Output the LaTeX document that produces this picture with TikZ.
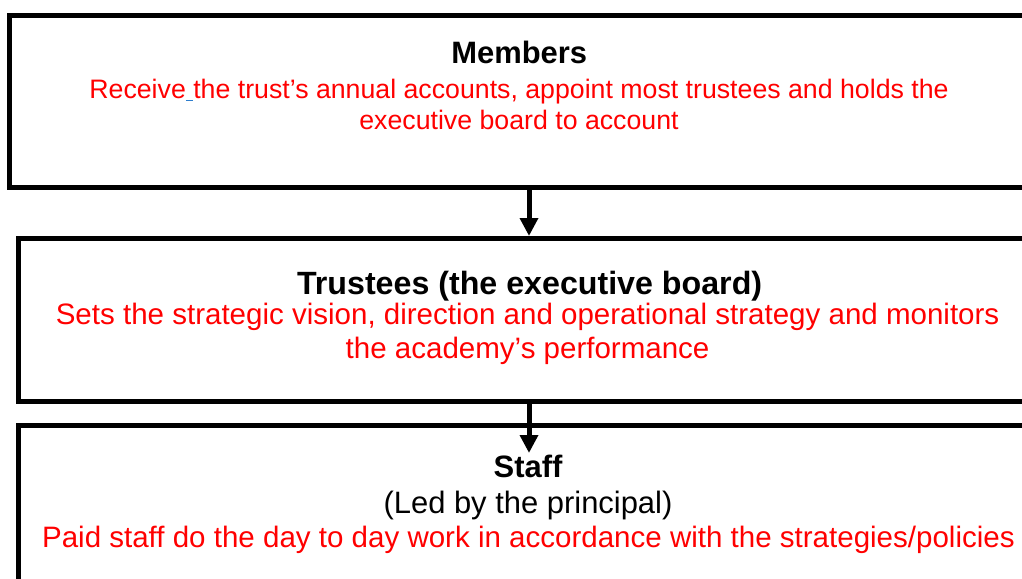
\documentclass[tikz,border=0pt]{standalone}
\usepackage{fontspec}
\setmainfont{Liberation Sans}
\usetikzlibrary{arrows.meta}

\definecolor{linkblue}{RGB}{45,125,205}

\tikzset{
  panel/.style={draw=black, line width=0.125cm, minimum width=25.49cm},
  title/.style={font=\bfseries\fontsize{22}{26}\selectfont, inner sep=0pt},
  duty/.style={text=red, align=center, font=\fontsize{21}{24}\selectfont, inner sep=0pt},
  link/.style={line width=0.125cm, -{Triangle[width=0.44cm,length=0.45cm]}}
}

\begin{document}
\begin{tikzpicture}
	\useasboundingbox (0,0) rectangle (25.55,14.45);
	\clip (0,0) rectangle (25.55,14.45);

	% the three boxes, running off the right edge
	\node[panel, minimum width=25.94cm, minimum height=4.3cm] (members) at (13.206,11.9125) {};
	\node[panel, minimum height=4.075cm] (trustees) at (13.206,6.45) {};
	\node[panel, minimum height=5.3625cm] (staff) at (13.206,1.13125) {};

	% members
	\node[title] (membersname) at (12.98,13.15) {Members};
	\node[duty, font=\fontsize{19}{22}\selectfont] (membersduty) at (12.975,11.85) {Receive\textcolor{linkblue}{\underline{\ }}the trust’s annual accounts, appoint most trustees and holds the\\ executive board to account};

	% trustees
	\node[title, font=\bfseries\fontsize{22.9}{26}\selectfont] (trusteesname) at (13.24,7.3) {Trustees (the executive board)};
	\node[duty] (trusteesduty) at (13.19,6.1) {Sets the strategic vision, direction and operational strategy and monitors\\ the academy’s performance};

	% staff
	\node[title] (staffname) at (13.2,2.8) {Staff};
	\node[duty, text=black, font=\fontsize{22}{26}\selectfont] (staffled) at (13.2,1.825) {(Led by the principal)};
	\node[duty] (staffduty) at (13.21,0.95) {Paid staff do the day to day work in accordance with the strategies/policies};

	\coordinate (stafftip) at (13.225,3.125);

	\draw[link] (members.south -| 13.225,0) -- (trustees.north -| 13.225,0);
	\draw[link] (trustees.south -| 13.225,0) -- (stafftip);
\end{tikzpicture}
\end{document}
